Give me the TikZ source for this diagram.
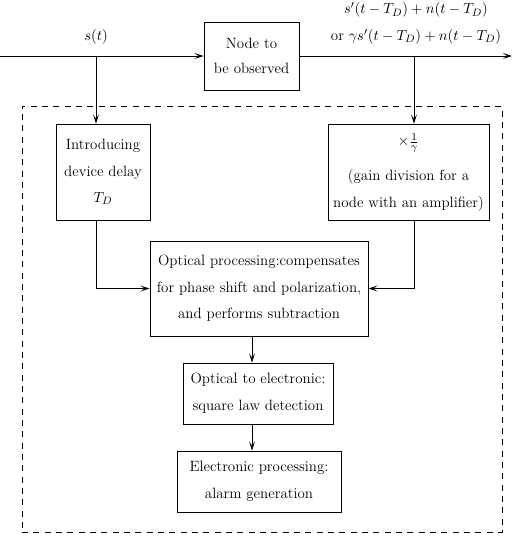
\documentclass[tikz,border=0pt]{standalone}
\usetikzlibrary{arrows.meta}
\begin{document}
\begin{tikzpicture}[x=0.75pt,y=-0.75pt,
  box/.style={draw, line width=0.7pt, align=center, inner sep=0pt,
    font=\fontsize{11.2}{20}\selectfont},
  flow/.style={line width=0.7pt, -{Stealth[length=7pt,width=4.6pt,inset=3.4pt]}},
  panelframe/.style={draw, line width=0.7pt, dash pattern=on 4.5pt off 4pt, inner sep=0pt},
  lbl/.style={align=center, inner sep=0pt, font=\fontsize{11.2}{20}\selectfont}]
\useasboundingbox (0,0) rectangle (513,537);

% dashed monitoring unit
\node[panelframe, minimum width=360pt, minimum height=319.5pt] (panel) at (262,319) {};

% blocks
\node[box, minimum width=71.25pt, minimum height=51pt,
  font=\fontsize{11.2}{19}\selectfont] (obs) at (251.5,56) {Node to\\be observed};
\node[box, minimum width=70.5pt, minimum height=72pt] (delay) at (103,172)
  {Introducing\\device delay\\$T_D$};
\node[box, minimum width=120.75pt, minimum height=72pt] (gain) at (408.5,172)
  {$\times\frac{1}{\gamma}$\\[6pt](gain division for a\\node with an amplifier)};
\node[box, minimum width=163.5pt, minimum height=71.25pt] (opt) at (259,288.5)
  {Optical processing:compensates\\for phase shift and polarization,\\and performs subtraction};
\node[box, minimum width=112.5pt, minimum height=45.75pt] (o2e) at (258,393.5)
  {Optical to electronic:\\square law detection};
\node[box, minimum width=123pt, minimum height=45.75pt] (elec) at (259,481.5)
  {Electronic processing:\\alarm generation};

% signal labels
\node[lbl] (sin) at (96,37) {$s(t)$};
\node[lbl] (sout) at (416,23.5)
  {$s'(t-T_D)+n(t-T_D)$\\or $\gamma s'(t-T_D)+n(t-T_D)$};

% main signal line
\coordinate (in) at (0,56);
\coordinate (out) at (512,56);
\coordinate (tapL) at (96,56);
\coordinate (tapR) at (414,56);
\coordinate (spine) at (252,0);
\draw[flow] (in) -- (obs.west);
\draw[flow] (obs.east) -- (out);

% taps into the monitor
\draw[flow] (tapL) -- (tapL |- delay.north);
\draw[flow] (tapR) -- (tapR |- gain.north);
\draw[flow] (tapL |- delay.south) |- (opt.west);
\draw[flow] (tapR |- gain.south) |- (opt.east);
\draw[flow] (spine |- opt.south) -- (spine |- o2e.north);
\draw[flow] (spine |- o2e.south) -- (spine |- elec.north);
\end{tikzpicture}
\end{document}
